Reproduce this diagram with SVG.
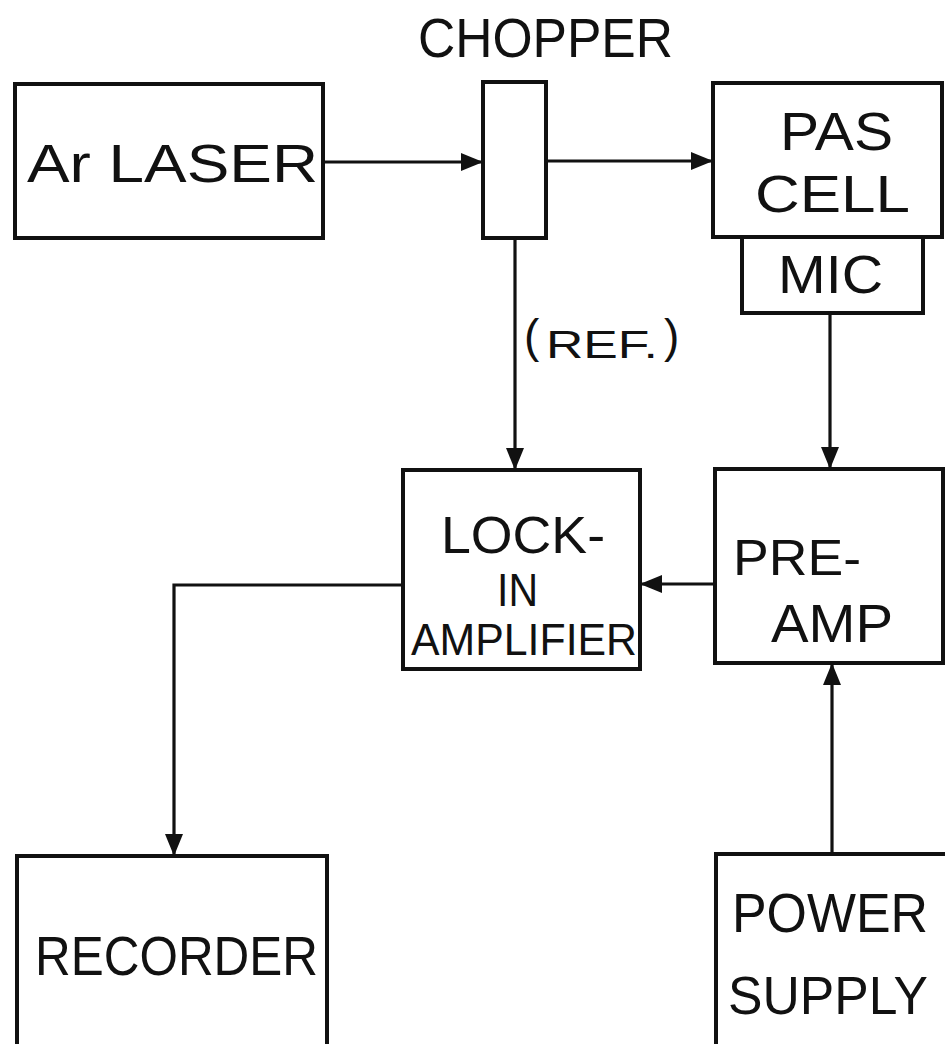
<svg xmlns="http://www.w3.org/2000/svg" width="945" height="1044" viewBox="0 0 945 1044">
<defs>
<style>
.box{fill:none;stroke:#111;stroke-width:4;stroke-linejoin:miter}
.wire{fill:none;stroke:#111;stroke-width:3.2}
.lbl{font-family:"Liberation Sans",Arial,sans-serif;fill:#111}
</style>
<marker id="ah" viewBox="0 0 22 18" refX="22" refY="9" markerWidth="22" markerHeight="18" markerUnits="userSpaceOnUse" orient="auto">
<path d="M0,0 L22,9 L0,18 Z" fill="#111"/>
</marker>
</defs>
<rect width="945" height="1044" fill="#fff"/>

<text class="lbl" x="418" y="57" font-size="56" textLength="255" lengthAdjust="spacingAndGlyphs">CHOPPER</text>

<g id="laser">
<rect class="box" x="15" y="84" width="308" height="154"/>
<text class="lbl" x="27" y="182" font-size="54" textLength="291" lengthAdjust="spacingAndGlyphs">Ar LASER</text>
</g>

<g id="chopper">
<rect class="box" x="483" y="82" width="63" height="156"/>
</g>

<g id="pascell">
<rect class="box" x="713" y="83" width="229" height="154"/>
<text class="lbl" x="780" y="150" font-size="53" textLength="113" lengthAdjust="spacingAndGlyphs">PAS</text>
<text class="lbl" x="755" y="212" font-size="52" textLength="155" lengthAdjust="spacingAndGlyphs">CELL</text>
</g>

<g id="mic">
<rect class="box" x="742" y="237" width="181" height="76"/>
<text class="lbl" x="778" y="293" font-size="53" textLength="105" lengthAdjust="spacingAndGlyphs">MIC</text>
</g>

<g id="lockin">
<rect class="box" x="403" y="470" width="237" height="199"/>
<text class="lbl" x="441" y="553" font-size="52" textLength="164" lengthAdjust="spacingAndGlyphs">LOCK-</text>
<text class="lbl" x="497" y="606" font-size="46" textLength="41" lengthAdjust="spacingAndGlyphs">IN</text>
<text class="lbl" x="411" y="655" font-size="45" textLength="226" lengthAdjust="spacingAndGlyphs">AMPLIFIER</text>
</g>

<g id="preamp">
<rect class="box" x="715" y="469" width="228" height="194"/>
<text class="lbl" x="733" y="575" font-size="50" textLength="128" lengthAdjust="spacingAndGlyphs">PRE-</text>
<text class="lbl" x="771" y="642" font-size="53" textLength="122" lengthAdjust="spacingAndGlyphs">AMP</text>
</g>

<g id="recorder">
<rect class="box" x="17" y="856" width="310" height="200"/>
<text class="lbl" x="35" y="975" font-size="56" textLength="283" lengthAdjust="spacingAndGlyphs">RECORDER</text>
</g>

<g id="powersupply">
<rect class="box" x="716" y="854" width="240" height="200"/>
<text class="lbl" x="732" y="932" font-size="56" textLength="196" lengthAdjust="spacingAndGlyphs">POWER</text>
<text class="lbl" x="728" y="1014" font-size="54" textLength="200" lengthAdjust="spacingAndGlyphs">SUPPLY</text>
</g>

<g id="connectors">
<line class="wire" x1="323" y1="162" x2="483" y2="162" marker-end="url(#ah)"/>
<line class="wire" x1="546" y1="161" x2="713" y2="161" marker-end="url(#ah)"/>
<line class="wire" x1="515" y1="238" x2="515" y2="470" marker-end="url(#ah)"/>
<line class="wire" x1="830" y1="313" x2="830" y2="469" marker-end="url(#ah)"/>
<line class="wire" x1="715" y1="584" x2="640" y2="584" marker-end="url(#ah)"/>
<polyline class="wire" points="403,585 174,585 174,856" marker-end="url(#ah)"/>
<line class="wire" x1="832" y1="854" x2="832" y2="663" marker-end="url(#ah)"/>
<text class="lbl"><tspan x="524" y="352" font-size="46">(</tspan><tspan x="546" y="358" font-size="38" textLength="112" lengthAdjust="spacingAndGlyphs">REF.</tspan><tspan x="664" y="352" font-size="46">)</tspan></text>
</g>
</svg>
